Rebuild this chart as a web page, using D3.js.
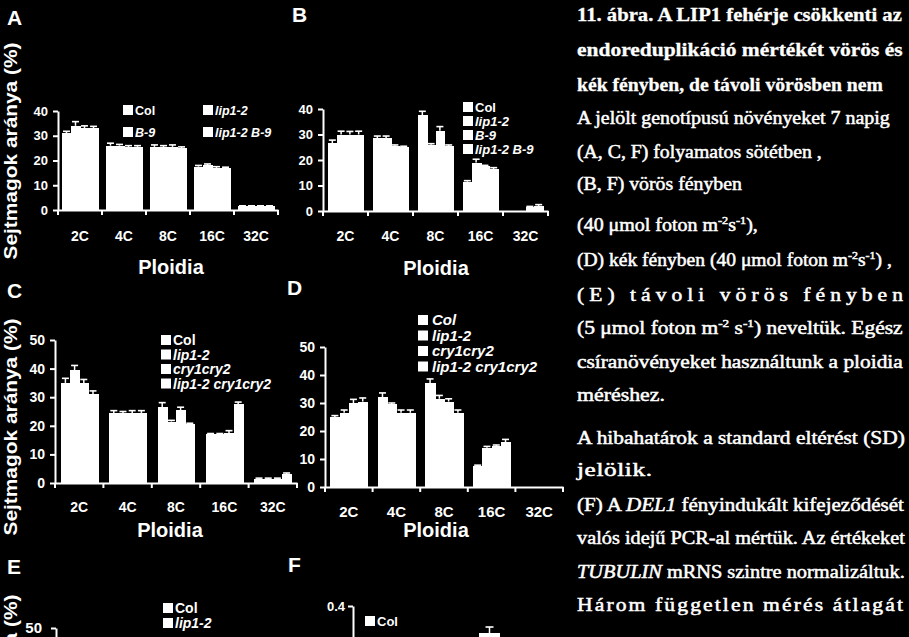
<!DOCTYPE html>
<html><head><meta charset="utf-8">
<script src="https://cdn.jsdelivr.net/npm/d3@7"></script>
<style>
html,body{margin:0;padding:0;background:#000;overflow:hidden}
svg{display:block}
</style></head><body>
<svg id="fig" width="909" height="637"></svg>
<script>
// ---------------- data ----------------
const ploidy = ["2C", "4C", "8C", "16C", "32C"];
const seriesAB = ["Col", "lip1-2", "B-9", "lip1-2 B-9"];
const seriesCD = ["Col", "lip1-2", "cry1cry2", "lip1-2 cry1cry2"];
const seriesE = ["Col", "lip1-2"];
const seriesF = ["Col"];
const ticksAB = [0, 10, 20, 30, 40];
const ticksCD = [0, 10, 20, 30, 40, 50];
const ticksE = [0, 10, 20, 30, 40, 50];
const ticksF = [0, 0.1, 0.2, 0.3, 0.4];
const yTitle = "Sejtmagok aránya (%)";
const xTitle = "Ploidia";

// rows = ploidy classes, columns = series
const valuesA = [[31, 34, 33, 33], [26, 26, 25.5, 25.5], [25.5, 25.5, 25.5, 25], [17.5, 18, 17, 17], [1.5, 1.5, 1.5, 1.5]];
const sdA     = [[0.8, 1.7, 1, 0.8], [1, 0.5, 0.5, 0.5], [0.8, 0.5, 0.8, 0.5], [0.5, 0.6, 0.5, 0.3], [0.2, 0.2, 0.2, 0.2]];
const valuesB = [[26.5, 30, 30, 30], [28.5, 28.5, 25.5, 25], [37.5, 26, 31.5, 25.5], [11.5, 19, 17.5, 16.5], [0, 0, 1.5, 2]];
const sdB     = [[1.3, 1.3, 1.2, 1.3], [0.9, 0.9, 0.4, 0.4], [1.6, 0.4, 1.6, 0.4], [0.4, 1.3, 0.4, 0.5], [0, 0, 0.3, 0.5]];
const valuesC = [[35, 39.5, 35, 31], [24.5, 24.5, 24.5, 24.5], [26.5, 21.5, 25.5, 20.5], [17, 17, 17.5, 27.5], [1.5, 1.5, 1.5, 3]];
const sdC     = [[1.6, 1.6, 1.2, 1.2], [0.8, 0.5, 0.8, 0.8], [1.6, 0.4, 1.0, 0.4], [0.3, 0.3, 0.8, 0.8], [0.2, 0.2, 0.2, 0.5]];
const valuesD = [[25, 26.5, 30, 30.5], [32, 29.5, 26.5, 26.5], [37, 31.5, 30.5, 26.5], [7.5, 14, 14.5, 16], [0, 0, 0, 0]];
const sdD     = [[0.5, 1.0, 1.3, 1.3], [1.6, 0.5, 1.0, 1.0], [1.6, 1.2, 1.0, 1.0], [0.3, 0.5, 0.5, 1.0], [0, 0, 0, 0]];
const valuesF = [0.328];
const sdF     = [0.016];

const captionLines = [
  "11. ábra. A LIP1 fehérje csökkenti az",
  "endoreduplikáció mértékét vörös és",
  "kék fényben, de távoli vörösben nem",
  "A jelölt genotípusú növényeket 7 napig",
  "(A, C, F) folyamatos sötétben ,",
  "(B, F) vörös fényben",
  "(40 μmol foton m^{-2}s^{-1}),",
  "(D) kék fényben (40 μmol foton m^{-2}s^{-1}) ,",
  "(E) távoli vörös fényben",
  "(5 μmol foton m^{-2} s^{-1})  neveltük. Egész",
  "csíranövényeket használtunk a ploidia",
  "méréshez.",
  "A hibahatárok a standard eltérést (SD)",
  "jelölik.",
  "(F) A _DEL1_ fényindukált kifejeződését",
  "valós idejű PCR-al mértük. Az értékeket",
  "_TUBULIN_ mRNS szintre normalizáltuk.",
  "Három független mérés átlagát"
];

// ---------------- layout ----------------
const captionX = 577;
const captionBase = [21, 56, 91, 124, 158, 190, 231, 266, 301, 334, 368, 401, 444, 476, 511, 544, 578, 611];
const captionEnd = [902, 903, 883, 890, 822, 742, 758, 892, 903, 903, 903, 665, 905, 652, 904, 905, 905, 903];
const captionStretchMax = [1.2, 1.2, 1.2, 1.2, 1.25, 1.3, 1.3, 1.2, 1.2, 1.2, 1.2, 1.35, 1.2, 1.4, 1.2, 1.2, 1.2, 1.2];

const FONT = "'Liberation Sans', Arial, sans-serif";
const SERIF = "'Liberation Serif', 'Times New Roman', serif";
const svg = d3.select("#fig");
svg.append("rect").attr("width", 909).attr("height", 637).attr("fill", "#000");

const panels = [
  {letter: "A", lx: 7, ly: 25, values: valuesA, sd: sdA, series: seriesAB, italic: [false, true, true, true],
   ticks: ticksAB, ymax: 40, x0: 58, x1: 278, y0: 210, yTop: 111, pad: 0.18, tickFont: 13, catFont: 14, labelDy: 31,
   px: 171, py: 274, leg: {x: 123, y: 115, dx: 80, dy: 22, cols: 2, fs: 12.5, tx: 12}},
  {letter: "B", lx: 292, ly: 22, values: valuesB, sd: sdB, series: seriesAB, italic: [false, true, true, true],
   ticks: ticksAB, ymax: 40, x0: 323, x1: 548, y0: 211, yTop: 109, pad: 0.22, tickFont: 13, catFont: 14, labelDy: 30,
   px: 436, py: 275, leg: {x: 463, y: 112, dx: 0, dy: 14, cols: 1, fs: 13, tx: 12}},
  {letter: "C", lx: 7, ly: 298, values: valuesC, sd: sdC, series: seriesCD, italic: [false, true, true, true],
   ticks: ticksCD, ymax: 50, x0: 55, x1: 297, y0: 483, yTop: 340, pad: 0.24, tickFont: 14, catFont: 14, labelDy: 29,
   px: 170, py: 537, leg: {x: 161, y: 345, dx: 0, dy: 14.5, cols: 1, fs: 14, tx: 12}},
  {letter: "D", lx: 287, ly: 295, values: valuesD, sd: sdD, series: seriesCD, italic: [true, true, true, true],
   ticks: ticksCD, ymax: 50, x0: 325, x1: 563, y0: 487, yTop: 347, pad: 0.22, tickFont: 14, catFont: 15, labelDy: 30,
   px: 436, py: 537, leg: {x: 418, y: 325, dx: 0, dy: 15.5, cols: 1, fs: 15, tx: 14}}
];

function styleAxis(sel, fs) {
  sel.select(".domain").attr("stroke", "#fff").attr("stroke-width", 2);
  sel.selectAll(".tick line").attr("stroke", "#fff").attr("stroke-width", 2);
  sel.selectAll(".tick text").attr("fill", "#fff").attr("font-family", FONT)
    .attr("font-weight", "bold").attr("font-size", fs);
}

function legend(g, series, italic, L) {
  series.forEach((s, i) => {
    const col = i % L.cols, row = Math.floor(i / L.cols);
    const lx = L.x + col * L.dx, ly = L.y + row * L.dy;
    g.append("rect").attr("x", lx).attr("y", ly - 10).attr("width", 10).attr("height", 10).attr("fill", "#fff");
    g.append("text").attr("x", lx + L.tx).attr("y", ly).text(s)
      .attr("fill", "#fff").attr("font-family", FONT).attr("font-weight", "bold")
      .attr("font-style", italic[i] ? "italic" : "normal").attr("font-size", L.fs);
  });
}

function drawPanel(p) {
  const g = svg.append("g");
  const x = d3.scaleBand().domain(ploidy).range([p.x0, p.x1]).paddingInner(p.pad).paddingOuter(p.pad / 2);
  const y = d3.scaleLinear().domain([0, p.ymax]).range([p.y0, p.yTop]);
  const xs = d3.scaleBand().domain(p.series).range([0, x.bandwidth()]);

  const grp = g.selectAll("g.grp").data(p.values).join("g")
    .attr("transform", (d, i) => `translate(${x(ploidy[i])},0)`);
  grp.selectAll("rect").data(d => d).join("rect")
    .attr("x", (d, j) => xs(p.series[j])).attr("y", d => y(d))
    .attr("width", xs.bandwidth() + 1).attr("height", d => y(0) - y(d)).attr("fill", "#fff")
    .attr("shape-rendering", "crispEdges");
  // error bars
  grp.each(function(row, i) {
    const gg = d3.select(this);
    row.forEach((v, j) => {
      const s = p.sd[i][j];
      if (!s) return;
      const cx = xs(p.series[j]) + xs.bandwidth() / 2;
      gg.append("line").attr("x1", cx).attr("x2", cx).attr("y1", y(v)).attr("y2", y(v + s))
        .attr("stroke", "#fff").attr("stroke-width", 1.5);
      gg.append("line").attr("x1", cx - 3.5).attr("x2", cx + 3.5).attr("y1", y(v + s)).attr("y2", y(v + s))
        .attr("stroke", "#fff").attr("stroke-width", 1.6);
    });
  });

  // y axis
  const ya = g.append("g").attr("transform", `translate(${p.x0},0)`)
    .call(d3.axisLeft(y).tickValues(p.ticks).tickSize(5).tickSizeOuter(0).tickPadding(5).tickFormat(d3.format("d")));
  styleAxis(ya, p.tickFont);

  // x axis (labels centred on groups, tick marks at group boundaries)
  const xa = g.append("g").attr("transform", `translate(0,${p.y0})`)
    .call(d3.axisBottom(x).tickSize(0).tickSizeOuter(0));
  styleAxis(xa, p.catFont);
  xa.selectAll(".tick text").attr("y", p.labelDy).attr("dy", 0);
  const bounds = d3.range(ploidy.length + 1).map(i => x.range()[0] + i * x.step());
  xa.selectAll("line.bnd").data(bounds).join("line").attr("class", "bnd")
    .attr("x1", d => d).attr("x2", d => d).attr("y1", 0).attr("y2", 5)
    .attr("stroke", "#fff").attr("stroke-width", 2);

  // titles
  g.append("text").attr("x", p.px).attr("y", p.py).attr("text-anchor", "middle").text(xTitle)
    .attr("fill", "#fff").attr("font-family", FONT).attr("font-weight", "bold").attr("font-size", 20);
  g.append("text").attr("x", p.lx).attr("y", p.ly).text(p.letter)
    .attr("fill", "#fff").attr("font-family", FONT).attr("font-weight", "bold").attr("font-size", 21);

  legend(g, p.series, p.italic, p.leg);
}
panels.forEach(drawPanel);

// rotated y titles (A, C, and partially visible E)
[151, 427, 703].forEach(cy => {
  svg.append("text").attr("transform", `translate(17,${cy}) rotate(-90)`).attr("text-anchor", "middle")
    .attr("textLength", 217).attr("lengthAdjust", "spacingAndGlyphs").text(yTitle)
    .attr("fill", "#fff").attr("font-family", FONT).attr("font-weight", "bold").attr("font-size", 19);
});

// ---------- panel E (only the top is visible) ----------
{
  const g = svg.append("g");
  const y = d3.scaleLinear().domain([0, 50]).range([771, 628]);
  const ya = g.append("g").attr("transform", "translate(56,0)")
    .call(d3.axisLeft(y).tickValues(ticksE).tickSize(5).tickSizeOuter(0).tickPadding(9));
  styleAxis(ya, 15);
  g.append("text").attr("x", 7).attr("y", 574).text("E")
    .attr("fill", "#fff").attr("font-family", FONT).attr("font-weight", "bold").attr("font-size", 21);
  legend(g, seriesE, [false, true], {x: 163, y: 613, dx: 0, dy: 15, cols: 1, fs: 14, tx: 12});
}

// ---------- panel F (only the top is visible) ----------
{
  const g = svg.append("g");
  const y = d3.scaleLinear().domain([0, 0.4]).range([756, 606]);
  const x = d3.scaleBand().domain(seriesF).range([479, 500]);
  const ya = g.append("g").attr("transform", "translate(353,0)")
    .call(d3.axisLeft(y).tickValues(ticksF).tickSize(5).tickSizeOuter(0).tickPadding(3).tickFormat(d3.format(".1f")));
  styleAxis(ya, 13);
  seriesF.forEach((s, i) => {
    const v = valuesF[i], e = sdF[i], cx = x(s) + x.bandwidth() / 2;
    g.append("rect").attr("x", x(s)).attr("y", y(v)).attr("width", x.bandwidth()).attr("height", y(0) - y(v)).attr("fill", "#fff");
    g.append("line").attr("x1", cx).attr("x2", cx).attr("y1", y(v)).attr("y2", y(v + e)).attr("stroke", "#fff").attr("stroke-width", 1.5);
    g.append("line").attr("x1", cx - 4).attr("x2", cx + 4).attr("y1", y(v + e)).attr("y2", y(v + e)).attr("stroke", "#fff").attr("stroke-width", 1.6);
  });
  g.append("text").attr("x", 288).attr("y", 572).text("F")
    .attr("fill", "#fff").attr("font-family", FONT).attr("font-weight", "bold").attr("font-size", 21);
  legend(g, seriesF, [false], {x: 365, y: 626, dx: 0, dy: 15, cols: 1, fs: 13, tx: 12});
}

// ---------- caption text ----------
captionLines.forEach((line, i) => {
  const bold = i < 3;
  const t = svg.append("text").attr("x", 0).attr("y", 0)
    .attr("fill", "#fff").attr("stroke", "#fff").attr("stroke-width", bold ? 0.3 : 0.5)
    .attr("font-family", SERIF).attr("font-weight", bold ? "bold" : "normal").attr("font-size", 18);
  const parts = line.split(/(\^\{[^}]*\}|_[^_]+_)/).filter(s => s.length);
  let shifted = false;
  parts.forEach(part => {
    if (part.startsWith("^{")) {
      t.append("tspan").attr("dy", shifted ? 0 : -7).attr("font-size", 11).text(part.slice(2, -1));
      shifted = true;
    } else {
      const ts = t.append("tspan");
      if (shifted) { ts.attr("dy", 7); shifted = false; }
      if (part.startsWith("_")) ts.attr("font-style", "italic").text(part.slice(1, -1));
      else ts.text(part);
    }
  });
  const target = captionEnd[i] - captionX;
  const natural = t.node().getComputedTextLength();
  const sx = Math.min(captionStretchMax[i], target / natural);
  t.attr("transform", `translate(${captionX},${captionBase[i]}) scale(${sx},1)`);
  if (target / natural > sx) t.attr("textLength", target / sx).attr("lengthAdjust", "spacing");
});
</script>
</body></html>
